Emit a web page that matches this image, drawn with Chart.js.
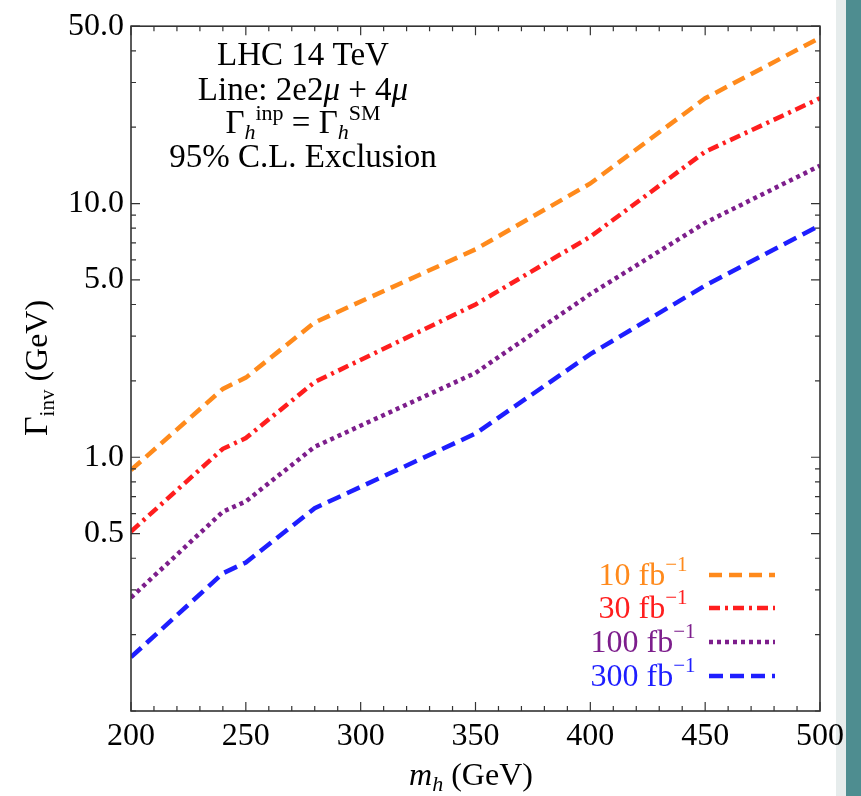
<!DOCTYPE html>
<html>
<head>
<meta charset="utf-8">
<script src="https://cdn.jsdelivr.net/npm/chart.js@4.4.1/dist/chart.umd.min.js"></script>
<style>
  html, body { margin: 0; padding: 0; background: #fff; }
  canvas { display: block; }
</style>
</head>
<body>
<canvas id="widthChart" width="861" height="796"></canvas>
<script>
// Higgs mass points (GeV) and excluded invisible widths (GeV) per luminosity
const massPoints = [200, 240, 250, 280, 350, 400, 450, 500];
const width10fb = [0.89, 1.86, 2.06, 3.4, 6.6, 12.0, 26.0, 45.0];
const width30fb = [0.51, 1.08, 1.19, 1.98, 4.0, 7.4, 16.0, 26.0];
const width100fb = [0.28, 0.61, 0.67, 1.1, 2.15, 4.4, 8.4, 14.1];
const width300fb = [0.163, 0.349, 0.385, 0.63, 1.24, 2.55, 4.75, 8.2];
const lumiLabels = ['10', '30', '100', '300'];

const xMajorTicks = [200, 250, 300, 350, 400, 450, 500];
const xMinorTicks = [210, 220, 230, 240, 260, 270, 280, 290, 310, 320, 330, 340,
    360, 370, 380, 390, 410, 420, 430, 440, 460, 470, 480, 490];
const yMajorTicks = [0.5, 1, 5, 10, 50];
const yMinorTicks = [0.1, 0.2, 0.3, 0.4, 0.6, 0.7, 0.8, 0.9, 2, 3, 4, 6, 7, 8, 9, 20, 30, 40];

const SERIF = '"Liberation Serif", "Times New Roman", serif';
const colors = ['#ff8a1c', '#ff1e1e', '#7d1e8c', '#1e1eff'];
const dashes = [[13, 7], [11, 5, 3, 5], [4, 4], [14, 7]];

function toPoints(vals) {
    return massPoints.map((m, i) => ({ x: m, y: vals[i] }));
}

// draws a run of text pieces centred on cx, each piece {t, font, dy}
function drawRich(ctx, pieces, cx, baseline, color) {
    let total = 0;
    pieces.forEach(p => { ctx.font = p.font; total += ctx.measureText(p.t).width; });
    let x = cx - total / 2;
    ctx.fillStyle = color || '#000';
    ctx.textAlign = 'left';
    ctx.textBaseline = 'alphabetic';
    pieces.forEach(p => {
        ctx.font = p.font;
        ctx.fillText(p.t, x, baseline + (p.dy || 0));
        x += ctx.measureText(p.t).width;
    });
}

const framePlugin = {
    id: 'frame',
    beforeDraw(chart) {
        const ctx = chart.ctx;
        ctx.save();
        ctx.fillStyle = '#fff';
        ctx.fillRect(0, 0, chart.width, chart.height);
        ctx.fillStyle = '#e6ecec';
        ctx.fillRect(836, 0, 10, chart.height);
        ctx.fillStyle = '#4e8d90';
        ctx.fillRect(846, 0, 15, chart.height);
        ctx.restore();
    },
    afterDraw(chart) {
        const ctx = chart.ctx;
        const area = chart.chartArea;
        const xs = chart.scales.x, ys = chart.scales.y;
        ctx.save();
        ctx.strokeStyle = '#333';
        ctx.lineWidth = 1.6;
        ctx.strokeRect(area.left, area.top, area.right - area.left, area.bottom - area.top);

        ctx.lineWidth = 1.2;
        ctx.beginPath();
        const xTick = (v, len) => {
            const px = xs.getPixelForValue(v);
            ctx.moveTo(px, area.bottom); ctx.lineTo(px, area.bottom - len);
            ctx.moveTo(px, area.top); ctx.lineTo(px, area.top + len);
        };
        const yTick = (v, len) => {
            const py = ys.getPixelForValue(v);
            ctx.moveTo(area.left, py); ctx.lineTo(area.left + len, py);
            ctx.moveTo(area.right, py); ctx.lineTo(area.right - len, py);
        };
        xMajorTicks.forEach(v => xTick(v, 9));
        xMinorTicks.forEach(v => xTick(v, 5));
        yMajorTicks.forEach(v => yTick(v, 9));
        yMinorTicks.forEach(v => yTick(v, 5));
        ctx.stroke();

        // annotation block
        const big = '33px ' + SERIF;
        const it = 'italic 33px ' + SERIF;
        const sm = '22px ' + SERIF;
        const smIt = 'italic 22px ' + SERIF;
        drawRich(ctx, [{ t: 'LHC 14 TeV', font: big }], 303, 65);
        drawRich(ctx, [{ t: 'Line: 2e2', font: big }, { t: 'μ', font: it }, { t: ' + 4', font: big }, { t: 'μ', font: it }], 303, 100);
        drawRich(ctx, [
            { t: 'Γ', font: big }, { t: 'h', font: smIt, dy: 6 }, { t: 'inp', font: sm, dy: -13 },
            { t: ' = Γ', font: big }, { t: 'h', font: smIt, dy: 6 }, { t: 'SM', font: sm, dy: -13 }
        ], 303, 133);
        drawRich(ctx, [{ t: '95% C.L. Exclusion', font: big }], 303, 167);

        // legend
        const legRows = [585, 618, 652, 686];
        const axisFont = '32px ' + SERIF;
        lumiLabels.forEach((lab, i) => {
            drawRich(ctx, [
                { t: lab + ' fb', font: '32px ' + SERIF },
                { t: '−1', font: '21px ' + SERIF, dy: -14 }
            ], 643, legRows[i], colors[i]);
            ctx.beginPath();
            ctx.strokeStyle = colors[i];
            ctx.lineWidth = 4.5;
            ctx.setLineDash(dashes[i]);
            ctx.moveTo(709, legRows[i] - 10);
            ctx.lineTo(775, legRows[i] - 10);
            ctx.stroke();
        });
        ctx.setLineDash([]);

        // axis titles
        drawRich(ctx, [
            { t: 'm', font: 'italic 32px ' + SERIF }, { t: 'h', font: smIt, dy: 6 }, { t: ' (GeV)', font: axisFont }
        ], 471, 785);
        ctx.translate(47, 368);
        ctx.rotate(-Math.PI / 2);
        drawRich(ctx, [
            { t: 'Γ', font: '34px ' + SERIF }, { t: 'inv', font: '21px ' + SERIF, dy: 7 }, { t: ' (GeV)', font: axisFont }
        ], 0, 0);
        ctx.restore();
    }
};

const seriesVals = [width10fb, width30fb, width100fb, width300fb];
const datasets = seriesVals.map((vals, i) => ({
    label: lumiLabels[i] + ' fb-1',
    data: toPoints(vals),
    borderColor: colors[i],
    borderWidth: 4.5,
    borderDash: dashes[i],
    pointRadius: 0,
    tension: 0,
    fill: false
}));

const ctx = document.getElementById('widthChart').getContext('2d');
new Chart(ctx, {
    type: 'line',
    data: { datasets: datasets },
    options: {
        responsive: false,
        animation: false,
        layout: { padding: { left: 0, right: 41, top: 22, bottom: 0 } },
        plugins: {
            legend: { display: false },
            tooltip: { enabled: false }
        },
        scales: {
            x: {
                type: 'linear',
                min: 200,
                max: 500,
                afterBuildTicks: s => { s.ticks = xMajorTicks.map(v => ({ value: v })); },
                afterFit: s => { s.height = 85; },
                grid: { display: false, drawTicks: false },
                border: { display: false },
                ticks: {
                    autoSkip: false,
                    maxRotation: 0,
                    padding: 6,
                    color: '#000',
                    font: { family: SERIF, size: 32 },
                    callback: v => String(v)
                }
            },
            y: {
                type: 'logarithmic',
                min: 0.1,
                max: 50,
                afterBuildTicks: s => { s.ticks = yMajorTicks.map(v => ({ value: v })); },
                afterFit: s => { s.width = 131; },
                grid: { display: false, drawTicks: false },
                border: { display: false },
                ticks: {
                    autoSkip: false,
                    padding: 7,
                    color: '#000',
                    font: { family: SERIF, size: 32 },
                    callback: v => Number(v).toFixed(1)
                }
            }
        }
    },
    plugins: [framePlugin]
});
</script>
</body>
</html>
